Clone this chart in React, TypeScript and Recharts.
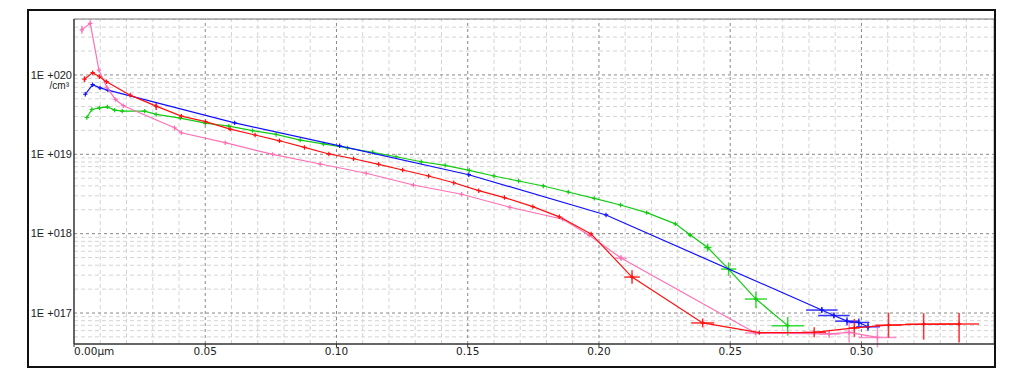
import React from 'react';
import { ScatterChart, Scatter, XAxis, YAxis, ErrorBar, ReferenceLine } from 'recharts';

// Axis definitions
const X_MAX = 0.3505;
const Y_MIN = 4.07e16;
const Y_MAX = 5.07e20;
const xTicks = [0, 0.05, 0.1, 0.15, 0.2, 0.25, 0.3];
const xMinor = [0.01, 0.02, 0.03, 0.04, 0.06, 0.07, 0.08, 0.09, 0.11, 0.12, 0.13, 0.14, 0.16, 0.17, 0.18, 0.19, 0.21, 0.22, 0.23, 0.24, 0.26, 0.27, 0.28, 0.29, 0.31, 0.32, 0.33, 0.34];
const yTicks = [1e17, 1e18, 1e19, 1e20];
const yMinor = [
  5e16, 6e16, 7e16, 8e16, 9e16,
  2e17, 3e17, 4e17, 5e17, 6e17, 7e17, 8e17, 9e17,
  2e18, 3e18, 4e18, 5e18, 6e18, 7e18, 8e18, 9e18,
  2e19, 3e19, 4e19, 5e19, 6e19, 7e19, 8e19, 9e19,
  2e20, 3e20, 4e20, 5e20,
];

// Series: [depth µm, concentration /cm³, xErr, yErrLow, yErrHigh]
type Pt = [number, number, number?, number?, number?];

const greenPoints: Pt[] = [
  [0.0049, 2.91e19], [0.0068, 3.67e19], [0.0097, 3.85e19], [0.0127, 3.96e19],
  [0.0155, 3.6e19], [0.0184, 3.5e19], [0.0269, 3.5e19], [0.0313, 3.18e19],
  [0.0405, 2.86e19], [0.05, 2.47e19], [0.059, 2.26e19], [0.068, 1.99e19],
  [0.077, 1.78e19], [0.0862, 1.51e19], [0.095, 1.35e19], [0.1042, 1.2e19],
  [0.1138, 1.06e19], [0.1227, 9.31e18], [0.1323, 8.05e18], [0.1414, 7.26e18],
  [0.1506, 6.28e18], [0.16, 5.33e18], [0.1694, 4.61e18], [0.1788, 3.99e18],
  [0.1883, 3.35e18], [0.1982, 2.78e18], [0.2082, 2.3e18], [0.2182, 1.84e18],
  [0.2291, 1.33e18],
  [0.2347, 9.66e17, 0.0008, 0.5e17, 0.55e17],
  [0.2414, 6.68e17, 0.0015, 0.73e17, 0.82e17],
  [0.2494, 3.58e17, 0.0029, 0.63e17, 0.77e17],
  [0.2598, 1.5e17, 0.0042, 0.34e17, 0.37e17],
  [0.2719, 6.93e16, 0.0062, 1.74e16, 1.98e16],
];

const redPoints: Pt[] = [
  [0.004, 8.83e19, 0, 0.7e19, 0.8e19], [0.0071, 1.07e20], [0.0097, 9.49e19], [0.0124, 8.22e19],
  [0.0214, 5.56e19], [0.0313, 4.05e19, 0, 0.44e19, 0.5e19], [0.0409, 3.03e19], [0.0501, 2.58e19],
  [0.0595, 2.08e19], [0.069, 1.75e19], [0.0783, 1.48e19], [0.0878, 1.22e19],
  [0.0971, 1.01e19], [0.1065, 8.79e18], [0.1161, 7.48e18], [0.1252, 6.34e18],
  [0.1351, 5.33e18], [0.1447, 4.38e18], [0.1542, 3.48e18], [0.164, 2.85e18],
  [0.1748, 2.19e18], [0.1849, 1.63e18], [0.197, 9.94e17],
  [0.2126, 2.84e17, 0.003, 0.5e17, 0.61e17],
  [0.2395, 7.5e16, 0.0044, 0.92e16, 1.04e16],
  [0.2611, 5.66e16],
  [0.282, 5.71e16, 0.0045, 0.77e16, 0.89e16],
  [0.2973, 6.49e16, 0.002, 1.49e16, 1.93e16],
  [0.3103, 7.03e16, 0.005, 2.13e16, 3.07e16],
  [0.3237, 7.24e16, 0.007, 2.62e16, 2.71e16],
  [0.3372, 7.26e16, 0.0076, 3.0e16, 2.72e16],
];

const bluePoints: Pt[] = [
  [0.0043, 5.71e19], [0.0071, 7.53e19], [0.0099, 6.87e19], [0.0129, 6.43e19],
  [0.0612, 2.49e19], [0.1012, 1.28e19], [0.1504, 5.53e18], [0.2027, 1.72e18],
  [0.2849, 1.09e17, 0.006, 0.09e17, 0.1e17],
  [0.2895, 9.3e16, 0.006, 0.78e16, 0.85e16],
  [0.2945, 7.9e16, 0.0045, 0.87e16, 0.97e16],
  [0.299, 7.6e16, 0.004, 0.83e16, 0.93e16],
  [0.3025, 6.7e16, 0.0045, 0.73e16, 0.82e16],
];

const pinkPoints: Pt[] = [
  [0.003, 3.7e20, 0, 0.4e20, 0.46e20], [0.0062, 4.47e20, 0, 0.37e20, 0.41e20],
  [0.0095, 1.15e20], [0.0125, 7.0e19], [0.0158, 4.91e19], [0.0188, 4.1e19],
  [0.0383, 2.16e19], [0.0409, 1.87e19], [0.0576, 1.4e19], [0.0757, 9.98e18],
  [0.0938, 7.54e18], [0.1113, 5.77e18], [0.1293, 4.1e18], [0.1477, 3.14e18],
  [0.1661, 2.15e18], [0.1862, 1.52e18], [0.1963, 9.53e17],
  [0.2084, 4.92e17, 0.0022, 0.41e17, 0.45e17],
  [0.2596, 5.61e16, 0.004, 0.3e16, 0.3e16],
  [0.2877, 5.45e16, 0.004, 0.6e16, 0.7e16],
  [0.2953, 5.69e16, 0.002, 1.43e16, 1.91e16],
  [0.3061, 4.92e16, 0.0072, 1.24e16, 1.65e16],
];

const toData = (pts: Pt[]) =>
  pts.map(([x, y, ex = 0, el = 0, eh = 0]) => ({ x, y, ex, ey: el || eh ? [el, eh] : 0 }));

const series = [
  { name: 'green', color: '#11cc11', errColor: '#33dd33', data: toData(greenPoints) },
  { name: 'blue', color: '#1010ff', errColor: '#3333ff', data: toData(bluePoints) },
  { name: 'pink', color: '#ff6fb5', errColor: '#ff8cc6', data: toData(pinkPoints) },
  { name: 'red', color: '#ff1010', errColor: '#ff3030', data: toData(redPoints) },
];

const makeMarker = (color: string) => (props: any) => {
  const { cx, cy } = props;
  if (cx == null || cy == null) return <g />;
  return (
    <path
      d={`M${cx - 2.2},${cy}H${cx + 2.2}M${cx},${cy - 2.2}V${cy + 2.2}`}
      stroke={color}
      strokeWidth={1.2}
      fill="none"
    />
  );
};

const YTick = (props: any) => {
  const { x, y, payload } = props;
  const exp = Math.round(Math.log10(payload.value));
  const label = `1E +${String(exp).padStart(3, '0')}`;
  return (
    <g>
      <text x={x} y={y} dy="0.34em" textAnchor="end" fontSize={11} fill="#222" fontFamily="Liberation Sans, Arial, sans-serif">
        {label}
      </text>
      {exp === 20 && (
        <text x={x - 3} y={y + 11} dy="0.3em" textAnchor="end" fontSize={10} fill="#222" fontFamily="Liberation Sans, Arial, sans-serif">
          /cm³
        </text>
      )}
    </g>
  );
};

const XTick = (props: any) => {
  const { x, y, payload } = props;
  const v = payload.value;
  const label = v === 0 ? '0.00µm' : v.toFixed(2);
  return (
    <text x={x} y={y} dy="0.71em" textAnchor={v === 0 ? 'start' : 'middle'} fontSize={10.5} fill="#222" fontFamily="DejaVu Sans, Verdana, sans-serif">
      {label}
    </text>
  );
};

export default function App() {
  return (
    <div style={{ position: 'relative', width: 1000, height: 370 }}>
      <ScatterChart width={1000} height={370} margin={{ top: 11, right: 14, left: 0, bottom: 14 }}>
        <XAxis
          type="number"
          dataKey="x"
          domain={[0, X_MAX]}
          ticks={xTicks}
          allowDataOverflow
          tick={<XTick />}
          tickSize={3}
          tickMargin={1}
          height={20}
          axisLine={{ stroke: '#333', strokeWidth: 1.5 }}
          tickLine={{ stroke: '#333' }}
        />
        <YAxis
          type="number"
          dataKey="y"
          scale="log"
          domain={[Y_MIN, Y_MAX]}
          ticks={yTicks}
          allowDataOverflow
          tick={<YTick />}
          width={66}
          tickSize={0}
          tickMargin={2}
          axisLine={{ stroke: '#333', strokeWidth: 1.5 }}
          tickLine={false}
        />
        {yMinor.map((v) => (
          <ReferenceLine key={`ym${v}`} y={v} stroke="#d4d4d4" strokeDasharray="4 3" />
        ))}
        {xMinor.map((v) => (
          <ReferenceLine key={`xm${v}`} x={v} stroke="#d4d4d4" strokeDasharray="4 3" />
        ))}
        {yTicks.map((v) => (
          <ReferenceLine key={`yM${v}`} y={v} stroke="#888" strokeDasharray="3 3" />
        ))}
        {xTicks.filter((v) => v > 0).map((v) => (
          <ReferenceLine key={`xM${v}`} x={v} stroke="#888" strokeDasharray="3 3" />
        ))}
        <ReferenceLine x={X_MAX} stroke="#999" strokeWidth={1} />
        <ReferenceLine y={Y_MAX} stroke="#777" strokeWidth={1} />
        {series.map((s) => (
          <Scatter
            key={s.name}
            data={s.data}
            isAnimationActive={false}
            line={{ stroke: s.color, strokeWidth: 1.2 }}
            lineType="joint"
            shape={makeMarker(s.color)}
          >
            <ErrorBar dataKey="ey" direction="y" width={0} stroke={s.errColor} strokeWidth={1.5} />
            <ErrorBar dataKey="ex" direction="x" width={0} stroke={s.errColor} strokeWidth={1.5} />
          </Scatter>
        ))}
      </ScatterChart>
      <div
        style={{
          position: 'absolute',
          left: 19,
          top: 1,
          width: 969,
          height: 359,
          border: '2px solid #111',
          boxSizing: 'border-box',
          pointerEvents: 'none',
        }}
      />
    </div>
  );
}
